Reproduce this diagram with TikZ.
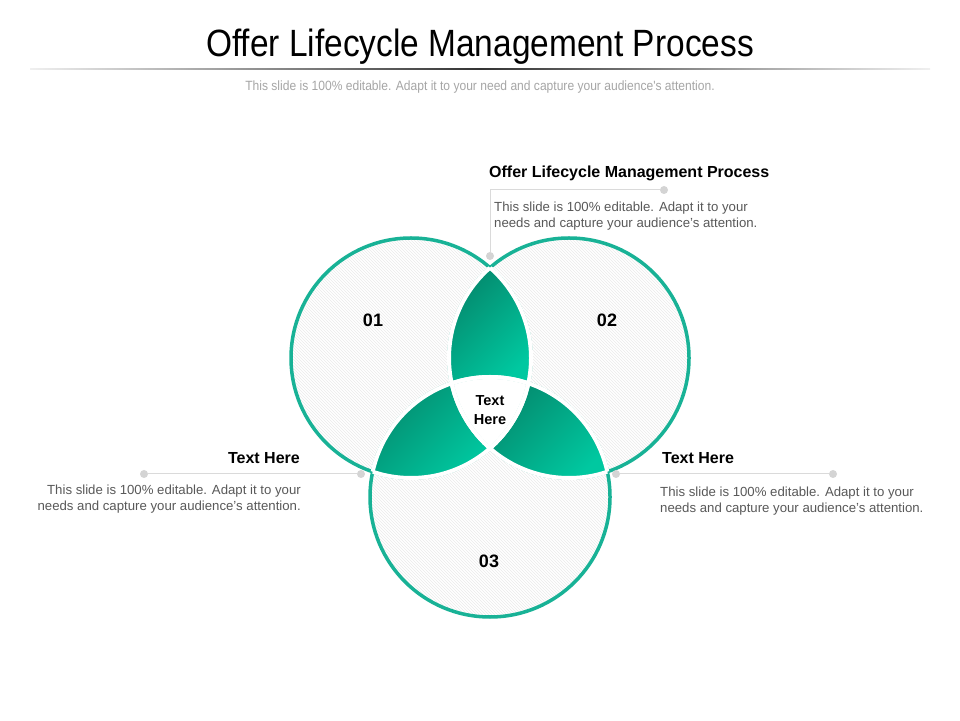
\documentclass[tikz,border=0pt]{standalone}
\usepackage{fontspec}
\setmainfont{Liberation Sans}
\newfontfamily\condfont[FakeStretch=0.88]{Liberation Sans}
\newfontfamily\subfont[FakeStretch=0.9]{Liberation Sans}
\usetikzlibrary{patterns}
\definecolor{ring}{RGB}{24,178,150}
\definecolor{tealdark}{RGB}{4,136,108}
\definecolor{teallight}{RGB}{0,200,160}
\definecolor{dotgray}{RGB}{212,212,212}
\definecolor{linegray}{RGB}{218,218,218}
\definecolor{bodygray}{RGB}{89,89,89}
\definecolor{subgray}{RGB}{166,166,166}
\begin{document}
\begin{tikzpicture}[x=1pt,y=1pt,
  dot/.style={circle,fill=dotgray,inner sep=0pt,minimum size=8pt},
  lead/.style={draw=linegray,line width=1pt},
  head/.style={font=\fontsize{16}{18}\selectfont\bfseries, inner sep=0pt},
  body/.style={font=\fontsize{13.2}{16}\selectfont, text=bodygray, inner sep=0pt},
  num/.style={font=\fontsize{18}{20}\selectfont\bfseries, inner sep=0pt},
  lensshade/.style={top color=tealdark,bottom color=teallight,shading angle=45}]
\useasboundingbox (0,0) rectangle (960,720);
\fill[white] (0,0) rectangle (960,720);
\def\R{120}
\coordinate (A) at (411,362);
\coordinate (B) at (569,362);
\coordinate (C) at (490,223);
% circle backgrounds
\foreach \cc in {A,B,C} {
  \fill[white] (\cc) circle (\R);
  \fill[pattern=north west lines, pattern color=black!8] (\cc) circle (\R);
}
% lenses
\begin{scope}
  \clip (A) circle (\R); \clip (B) circle (\R);
  \shade[lensshade] (448,336) rectangle (532,455);
\end{scope}
\begin{scope}
  \clip (A) circle (\R); \clip (C) circle (\R);
  \shade[lensshade] (368,243) rectangle (494,344);
\end{scope}
\begin{scope}
  \clip (B) circle (\R); \clip (C) circle (\R);
  \shade[lensshade] (486,243) rectangle (612,344);
\end{scope}
\begin{scope}
  \clip (A) circle (\R); \clip (B) circle (\R);
  \fill[white] (C) circle (\R);
\end{scope}
% rings
\foreach \cc in {A,B,C} {
  \draw[ring, line width=3.5pt] (\cc) circle (\R);
}
% white inner arcs
\foreach \ii/\jj in {A/B,A/C,B/A,B/C,C/A,C/B} {
  \begin{scope}
    \clip (\jj) circle (\R);
    \draw[white, line width=4pt] (\ii) circle (\R);
  \end{scope}
}
% title
\node[font=\condfont\fontsize{38}{40}\selectfont, inner sep=0pt] (title) at (480,673) {Offer Lifecycle Management Process};
\shade[left color=black!6, right color=black!6, middle color=black!80] (30,650.4) rectangle (930,651.6);
\node[font=\subfont\fontsize{13.4}{15}\selectfont, text=subgray, inner sep=0pt] (sub) at (480,633) {This slide is 100\% editable. Adapt it to your need and capture your audience's attention.};
% top callout
\node[dot] (d1) at (490,464) {};
\node[dot] (d2) at (664,530) {};
\draw[lead] (d1) |- (d2);
\node[head, anchor=west] (h1) at (489,546.5) {Offer Lifecycle Management Process};
\node[body, anchor=north west, align=left] (b1) at (494,518) {This slide is 100\% editable. Adapt it to your\\needs and capture your audience's attention.};
% left callout
\node[dot] (d3) at (144,246) {};
\node[dot] (d4) at (361,246) {};
\draw[lead] (d3) -- (d4);
\node[head, anchor=east] (h2) at (300,262) {Text Here};
\node[body, anchor=north east, align=right] (b2) at (301,235) {This slide is 100\% editable. Adapt it to your\\needs and capture your audience's attention.};
% right callout
\node[dot] (d5) at (616,246) {};
\node[dot] (d6) at (833,246) {};
\draw[lead] (d5) -- (d6);
\node[head, anchor=west] (h3) at (662,261.5) {Text Here};
\node[body, anchor=north west, align=left] (b3) at (660,233) {This slide is 100\% editable. Adapt it to your\\needs and capture your audience's attention.};
% numbers
\node[num] (n1) at (373,400) {01};
\node[num] (n2) at (607,400) {02};
\node[num] (n3) at (489,159) {03};
\node[font=\fontsize{14.5}{19}\selectfont\bfseries, align=center, inner sep=0pt] (ct) at (490,310) {Text\\Here};
\end{tikzpicture}
\end{document}
